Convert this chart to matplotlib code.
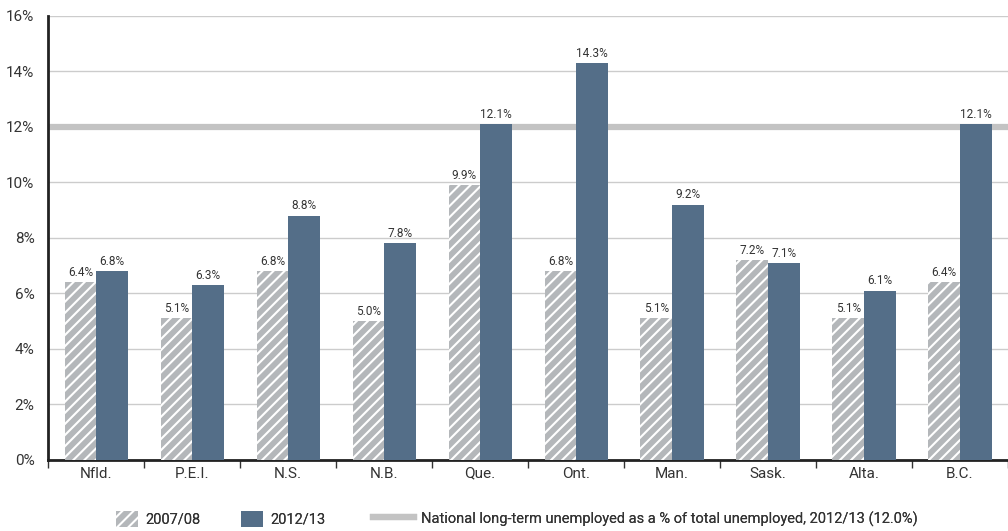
import matplotlib.pyplot as plt
import numpy as np
from matplotlib.patches import Patch
from matplotlib.lines import Line2D

plt.rcParams['font.family'] = ['Roboto', 'DejaVu Sans']
plt.rcParams['hatch.linewidth'] = 1.5

provinces = ["Nfld.", "P.E.I.", "N.S.", "N.B.", "Que.", "Ont.", "Man.", "Sask.", "Alta.", "B.C."]
share_0708 = [6.4, 5.1, 6.8, 5.0, 9.9, 6.8, 5.1, 7.2, 5.1, 6.4]
share_1213 = [6.8, 6.3, 8.8, 7.8, 12.1, 14.3, 9.2, 7.1, 6.1, 12.1]
national = 12.0
yticks = [0, 2, 4, 6, 8, 10, 12, 14, 16]

LIGHT = "#b4b7ba"
DARK = "#546e88"
NATIONAL = "#c3c3c3"
TEXT = "#333333"

W, H = 1008, 531
fig = plt.figure(figsize=(W / 100, H / 100), dpi=100)
ax = fig.add_axes([0.048, 0.134, 0.952, 0.836])

x = np.arange(len(provinces))
w = 0.33
b1 = ax.bar(x - w / 2, share_0708, w, facecolor=LIGHT, edgecolor="white",
            hatch="///", linewidth=0, zorder=3)
b2 = ax.bar(x + w / 2, share_1213, w, color=DARK, linewidth=0, zorder=3)

for rect, v in zip(list(b1) + list(b2), share_0708 + share_1213):
    ax.text(rect.get_x() + rect.get_width() / 2, v + 0.12, f"{v:.1f}%",
            ha="center", va="bottom", fontsize=8.5, color=TEXT, zorder=5)

ax.axhline(national, color=NATIONAL, linewidth=4.5, zorder=2)

ax.set_xlim(-0.5, len(provinces) - 0.5)
ax.set_ylim(0, 16)
ax.set_yticks(yticks)
ax.set_yticklabels([f"{t}%" for t in yticks], fontsize=11, color=TEXT)
ax.yaxis.grid(True, color="#cccccc", linewidth=1, zorder=0)
ax.tick_params(axis="y", length=0, pad=10)

ax.set_xticks(x)
ax.set_xticklabels(provinces, fontsize=11, color=TEXT)
ax.tick_params(axis="x", length=0, pad=5)
ax.set_xticks(np.arange(len(provinces) + 1) - 0.5, minor=True)
ax.tick_params(axis="x", which="minor", length=6, width=1, color="#333333")

for side in ["top", "right"]:
    ax.spines[side].set_visible(False)
for side in ["left", "bottom"]:
    ax.spines[side].set_color("#222222")
    ax.spines[side].set_linewidth(2)

# legend row along the bottom, one entry at a time so each sits where wanted
entries = [
    (Patch(facecolor=LIGHT, edgecolor="white", hatch="///", linewidth=0), "2007/08", 116, 1.5),
    (Patch(facecolor=DARK, linewidth=0), "2012/13", 241, 1.5),
    (Line2D([0], [0], color=NATIONAL, linewidth=4.5),
     "National long-term unemployed as a % of total unemployed, 2012/13 (12.0%)", 373, 2.8),
]
for handle, label, px, hl in entries:
    leg = fig.legend([handle], [label], loc="center left",
                     bbox_to_anchor=(px / W, 1 - 519 / H), frameon=False,
                     fontsize=10.5, handlelength=hl, handleheight=1.3,
                     handletextpad=0.5, borderpad=0, borderaxespad=0,
                     labelcolor=TEXT)
    fig.add_artist(leg)

fig.savefig("out.png", dpi=100)
